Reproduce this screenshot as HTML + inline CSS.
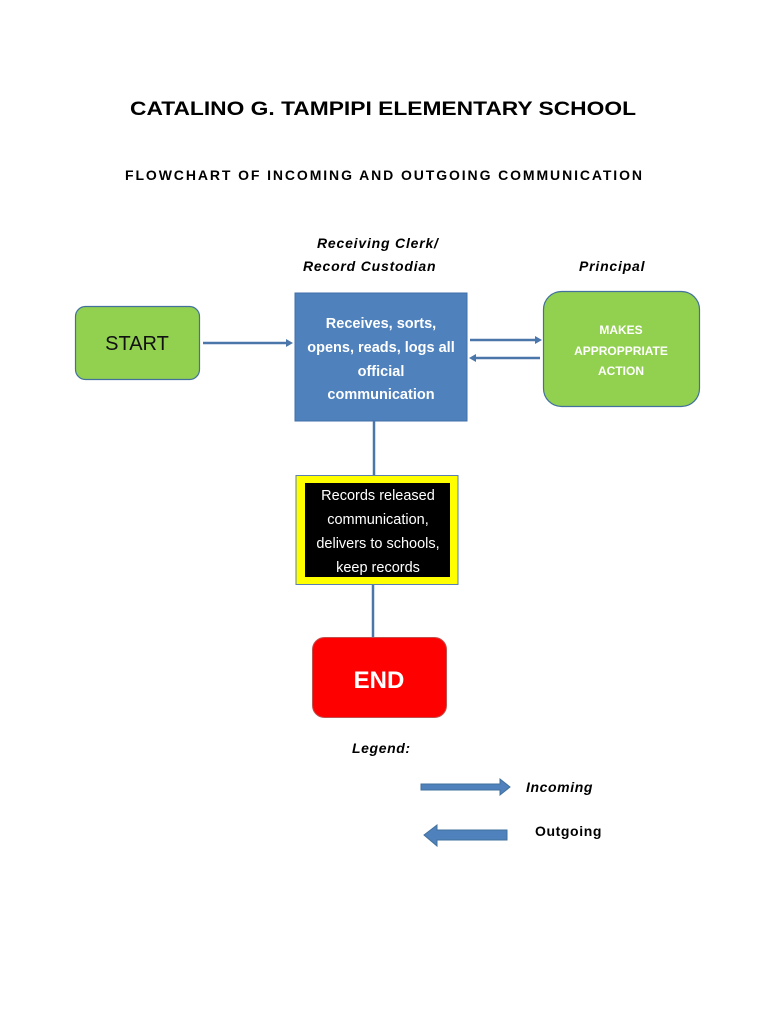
<!DOCTYPE html>
<html><head><meta charset="utf-8"><style>body{margin:0;background:#fff}svg{display:block}</style></head><body>
<svg width="768" height="1024" viewBox="0 0 768 1024" xmlns="http://www.w3.org/2000/svg" font-family="Liberation Sans, sans-serif">
<rect width="768" height="1024" fill="#fff"/>
<text x="130" y="115" font-size="19" font-weight="bold" textLength="506" lengthAdjust="spacingAndGlyphs">CATALINO G. TAMPIPI ELEMENTARY SCHOOL</text>
<text x="125" y="180" font-size="14" font-weight="bold" textLength="517" lengthAdjust="spacing">FLOWCHART OF INCOMING AND OUTGOING COMMUNICATION</text>
<text x="317" y="248" font-size="14" font-weight="bold" font-style="italic" letter-spacing="0.8">Receiving Clerk/</text>
<text x="303" y="271" font-size="14" font-weight="bold" font-style="italic" letter-spacing="0.8">Record Custodian</text>
<text x="579" y="271" font-size="14" font-weight="bold" font-style="italic" letter-spacing="0.8">Principal</text>
<rect x="75.5" y="306.5" width="124" height="73" rx="10" fill="#92d050" stroke="#41719c" stroke-width="1.2"/>
<text x="137" y="350" font-size="20" text-anchor="middle" fill="#111">START</text>
<rect x="295" y="293" width="172" height="128" fill="#4f81bd" stroke="#3f6fa8"/>
<g fill="#fff" font-size="14.5" font-weight="bold" text-anchor="middle">
<text x="381" y="328">Receives, sorts,</text>
<text x="381" y="352">opens, reads, logs all</text>
<text x="381" y="376">official</text>
<text x="381" y="399">communication</text>
</g>
<rect x="543.5" y="291.5" width="156" height="115" rx="18" fill="#92d050" stroke="#41719c" stroke-width="1.2"/>
<g fill="#fff" font-size="12" font-weight="bold" text-anchor="middle">
<text x="621" y="334">MAKES</text>
<text x="621" y="355">APPROPPRIATE</text>
<text x="621" y="375">ACTION</text>
</g>
<g stroke="#4a76aa" stroke-width="2.5" fill="#4a76aa">
<line x1="203" y1="343" x2="288" y2="343"/>
<line x1="470" y1="340" x2="536" y2="340"/>
<line x1="540" y1="358" x2="475" y2="358"/>
<line x1="374" y1="421" x2="374" y2="475"/>
<line x1="373" y1="584" x2="373" y2="637"/>
</g>
<polygon points="293,343 286,339 286,347" fill="#4a76aa"/>
<polygon points="542,340 535,336 535,344" fill="#4a76aa"/>
<polygon points="469,358 476,354 476,362" fill="#4a76aa"/>
<rect x="296" y="475.5" width="162" height="109" fill="#ffff00" stroke="#5a7fb0"/>
<rect x="305" y="483" width="145" height="94" fill="#000"/>
<g fill="#fff" font-size="14.5" text-anchor="middle">
<text x="378" y="500">Records released</text>
<text x="378" y="524">communication,</text>
<text x="378" y="548">delivers to schools,</text>
<text x="378" y="572">keep records</text>
</g>
<rect x="312.5" y="637.5" width="134" height="80" rx="12" fill="#ff0000" stroke="#c0504d"/>
<text x="379" y="688" font-size="24" font-weight="bold" text-anchor="middle" fill="#fff">END</text>
<text x="352" y="753" font-size="14" font-weight="bold" font-style="italic" letter-spacing="0.6">Legend:</text>
<polygon points="421,784 500,784 500,779 510,787 500,795 500,790 421,790" fill="#4f81bd" stroke="#41719c"/>
<text x="526" y="792" font-size="14" font-weight="bold" font-style="italic" letter-spacing="0.6">Incoming</text>
<polygon points="507,830 437,830 437,825 424,835 437,846 437,840 507,840" fill="#4f81bd" stroke="#41719c"/>
<text x="535" y="836" font-size="14" font-weight="bold" letter-spacing="0.6">Outgoing</text>
</svg>
</body></html>
